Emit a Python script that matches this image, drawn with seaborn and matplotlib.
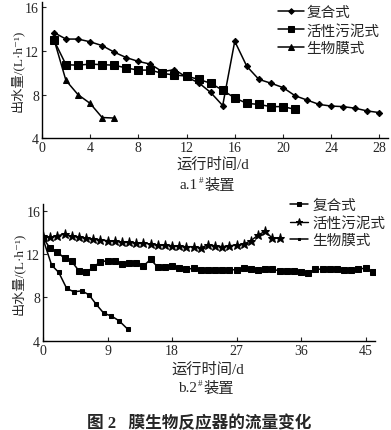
import numpy as np
import pandas as pd
import seaborn as sns
import matplotlib.pyplot as plt

# ---- data ----
# a. 1# device
days_a = list(range(1, 29))
fuhe_a = [13.7, 13.1, 13.1, 12.85, 12.5, 11.9, 11.4, 11.05, 10.8, 10.1,
          10.3, 9.6, 9.1, 8.2, 7.0, 12.9, 10.6, 9.4, 9.05, 8.65,
          7.9, 7.5, 7.1, 6.95, 6.9, 6.75, 6.5, 6.35]
days_a_sludge = list(range(1, 22))
sludge_a = [13.0, 10.75, 10.7, 10.8, 10.75, 10.7, 10.45, 10.25, 10.25, 9.95,
            9.8, 9.7, 9.4, 9.05, 8.4, 7.7, 7.2, 7.1, 6.9, 6.9, 6.65]
days_a_bio = [1, 2, 3, 4, 5, 6]
bio_a = [13.1, 9.3, 8.0, 7.2, 5.9, 5.85]

# b. 2# device
days_b = list(range(0, 47))
fuhe_b = [13.5, 12.52, 12.2, 11.6, 11.32, 10.46, 10.3, 10.77, 11.29, 11.38,
          11.32, 11.1, 11.17, 11.17, 10.9, 11.5, 10.8, 10.8, 10.86, 10.68,
          10.6, 10.68, 10.55, 10.5, 10.5, 10.52, 10.55, 10.55, 10.68, 10.59,
          10.52, 10.64, 10.62, 10.43, 10.43, 10.43, 10.31, 10.27, 10.62, 10.59,
          10.59, 10.59, 10.55, 10.55, 10.64, 10.68, 10.37]
days_b_sludge = list(range(0, 34))
sludge_b = [13.7, 13.54, 13.69, 13.85, 13.63, 13.6, 13.45, 13.38, 13.32, 13.23,
            13.23, 13.08, 13.08, 13.02, 13.02, 12.92, 12.83, 12.83, 12.77, 12.71,
            12.68, 12.68, 12.58, 12.83, 12.77, 12.68, 12.77, 12.83, 12.92, 13.23,
            13.76, 14.1, 13.45, 13.45]
days_b_bio = [0, 1.2, 2.2, 3.3, 4.3, 5.4, 6.4, 7.4, 8.5, 9.5, 10.6, 11.8]
bio_b = [13.4, 10.98, 10.3, 8.83, 8.52, 8.6, 8.25, 7.38, 6.52, 6.3, 5.85, 5.08]

labels = ['复合式', '活性污泥式', '生物膜式']
ylab = '出水量/(L·h⁻¹)'
xlab = '运行时间/d'

sns.set_style('ticks')
plt.rcParams['font.family'] = ['Liberation Serif', 'Noto Sans CJK SC', 'DejaVu Sans']
plt.rcParams['xtick.direction'] = 'in'
plt.rcParams['ytick.direction'] = 'in'

W, H = 391, 431
fig = plt.figure(figsize=(W / 100, H / 100), dpi=100)
ax1 = fig.add_axes([0.107, 0.677, 0.885, 0.316])
ax2 = fig.add_axes([0.110, 0.207, 0.849, 0.317])

# ---- top panel ----
sns.lineplot(x=days_a, y=fuhe_a, ax=ax1, color='black', lw=1.1, marker='D',
             markersize=3.2, markeredgecolor='black', label=labels[0])
sns.lineplot(x=days_a_sludge, y=sludge_a, ax=ax1, color='black', lw=1.1, marker='s',
             markersize=5.5, markeredgecolor='black', label=labels[1])
sns.lineplot(x=days_a_bio, y=bio_a, ax=ax1, color='black', lw=1.1, marker='^',
             markersize=4.5, markeredgecolor='black', label=labels[2])
ax1.set_xlim(0, 28.7)
ax1.set_ylim(4, 16.5)
ax1.set_xticks(range(0, 29, 4))
ax1.legend(loc='upper left', bbox_to_anchor=(278 / W, 1 - 7 / H),
           bbox_transform=fig.transFigure, frameon=False, fontsize=10.5,
           borderpad=0, borderaxespad=0, handlelength=1.75, labelspacing=0.3,
           handletextpad=0.2, markerscale=0.9)

# ---- bottom panel ----
sns.lineplot(x=days_b, y=fuhe_b, ax=ax2, color='black', lw=1.1, marker='s',
             markersize=4.2, markeredgecolor='black', label=labels[0])
sns.lineplot(x=days_b_sludge, y=sludge_b, ax=ax2, color='black', lw=1.0, marker='*',
             markersize=6.5, markeredgecolor='black', label=labels[1])
sns.lineplot(x=days_b_bio, y=bio_b, ax=ax2, color='black', lw=1.1, marker='s',
             markersize=2.5, markeredgecolor='black', label=labels[2])
ax2.set_xlim(0, 46.3)
ax2.set_ylim(4, 16.6)
ax2.set_xticks(range(0, 46, 9))
ax2.legend(loc='upper left', bbox_to_anchor=(290 / W, 1 - 200 / H),
           bbox_transform=fig.transFigure, frameon=False, fontsize=10.5,
           borderpad=0, borderaxespad=0, handlelength=1.25, labelspacing=0.25,
           handletextpad=0.3, markerscale=0.8)

for ax in (ax1, ax2):
    sns.despine(ax=ax)
    ax.set_yticks([4, 8, 12, 16])
    ax.set_xlabel('')
    ax.set_ylabel(ylab, fontsize=9.5, labelpad=1)
    ax.tick_params(labelsize=10, length=3, width=0.8, pad=2)
    for s in ('left', 'bottom'):
        ax.spines[s].set_linewidth(1.0)
        ax.spines[s].set_color('black')

# x-axis titles and panel captions (pixel positions from the top)
def txt(x, y, s, **kw):
    fig.text(x / W, 1 - y / H, s, va='center', **kw)

txt(213, 165, xlab, ha='center', fontsize=11)
txt(198, 186, 'a.1', ha='right', fontsize=11)
txt(198.5, 181, '#', ha='left', fontsize=6.5)
txt(204, 186, '装置', ha='left', fontsize=11)

txt(208, 370, xlab, ha='center', fontsize=11)
txt(197, 389, 'b.2', ha='right', fontsize=11)
txt(197.5, 384, '#', ha='left', fontsize=6.5)
txt(203, 389, '装置', ha='left', fontsize=11)

txt(199, 424, '图 2   膜生物反应器的流量变化', ha='center', fontsize=12,
    fontweight='bold')

fig.savefig('out.png', dpi=100)
